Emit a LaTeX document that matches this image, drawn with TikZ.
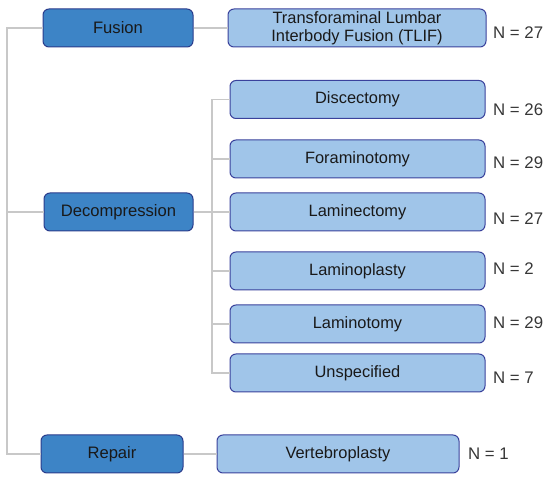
\documentclass[tikz,border=0pt]{standalone}
\usepackage{fontspec}
\setmainfont{Liberation Sans}
\definecolor{darkfill}{RGB}{61,132,198}
\definecolor{darkline}{RGB}{42,60,140}
\definecolor{lightfill}{RGB}{160,197,233}
\definecolor{lightline}{RGB}{58,66,156}
\definecolor{connline}{RGB}{200,200,200}
\definecolor{txt}{RGB}{25,25,25}
\definecolor{ntxt}{RGB}{55,55,55}
\begin{document}
\begin{tikzpicture}[x=1pt,y=-1pt,
  catbox/.style={draw=darkline,fill=darkfill,line width=1pt,rounded corners=6pt,
    minimum height=38pt,inner sep=0pt,text=txt,font=\fontsize{16.6}{18}\selectfont},
  subbox/.style={draw=lightline,fill=lightfill,line width=1pt,rounded corners=6pt,
    minimum height=38pt,inner sep=0pt,text=txt,font=\fontsize{16.4}{18}\selectfont,align=center},
  nlabel/.style={anchor=west,inner sep=0pt,text=ntxt,font=\fontsize{16.8}{18}\selectfont},
  conn/.style={draw=connline,line width=1.2pt}]
\useasboundingbox (0,0) rectangle (550,484);
% category boxes
\node[catbox,minimum width=150pt] (fusion) at (118,28) {Fusion};
\node[catbox,minimum width=149pt] (decomp) at (118.5,212) {Decompression};
\node[catbox,minimum width=142pt] (repair) at (112,454) {Repair};
% sub boxes
\node[subbox,minimum width=258pt] (tlif) at (357,28) {Transforaminal Lumbar\\Interbody Fusion (TLIF)};
\node[subbox,minimum width=255pt] (disc) at (357.5,99.5) {Discectomy};
\node[subbox,minimum width=255pt] (fora) at (357.5,159) {Foraminotomy};
\node[subbox,minimum width=255pt] (lamec) at (357.5,212) {Laminectomy};
\node[subbox,minimum width=255pt] (lamop) at (357.5,271) {Laminoplasty};
\node[subbox,minimum width=255pt] (lamot) at (357.5,324) {Laminotomy};
\node[subbox,minimum width=255pt] (unsp) at (357.5,373) {Unspecified};
\node[subbox,minimum width=242pt] (vert) at (338,454) {Vertebroplasty};
% N labels
\node[nlabel] (n1) at (493,33) {N = 27};
\node[nlabel] (n2) at (493,110) {N = 26};
\node[nlabel] (n3) at (493,163) {N = 29};
\node[nlabel] (n4) at (493,219) {N = 27};
\node[nlabel] (n5) at (493,269) {N = 2};
\node[nlabel] (n6) at (493,323) {N = 29};
\node[nlabel] (n7) at (493,378) {N = 7};
\node[nlabel] (n8) at (468,454) {N = 1};
% connectors
\coordinate (t) at (7,240);
\coordinate (s) at (212,240);
\path[conn] (fusion.west) -| (t) |- (repair.west);
\path[conn] (decomp.west) -- (decomp.west -| t);
\path[conn] (fusion.east) -- (tlif.west);
\path[conn] (repair.east) -- (vert.west);
\path[conn] (decomp.east) -- (lamec.west);
\path[conn] (disc.west) -| (s) |- (unsp.west);
\path[conn] (fora.west) -- (fora.west -| s);
\path[conn] (lamop.west) -- (lamop.west -| s);
\path[conn] (lamot.west) -- (lamot.west -| s);
\end{tikzpicture}
\end{document}
